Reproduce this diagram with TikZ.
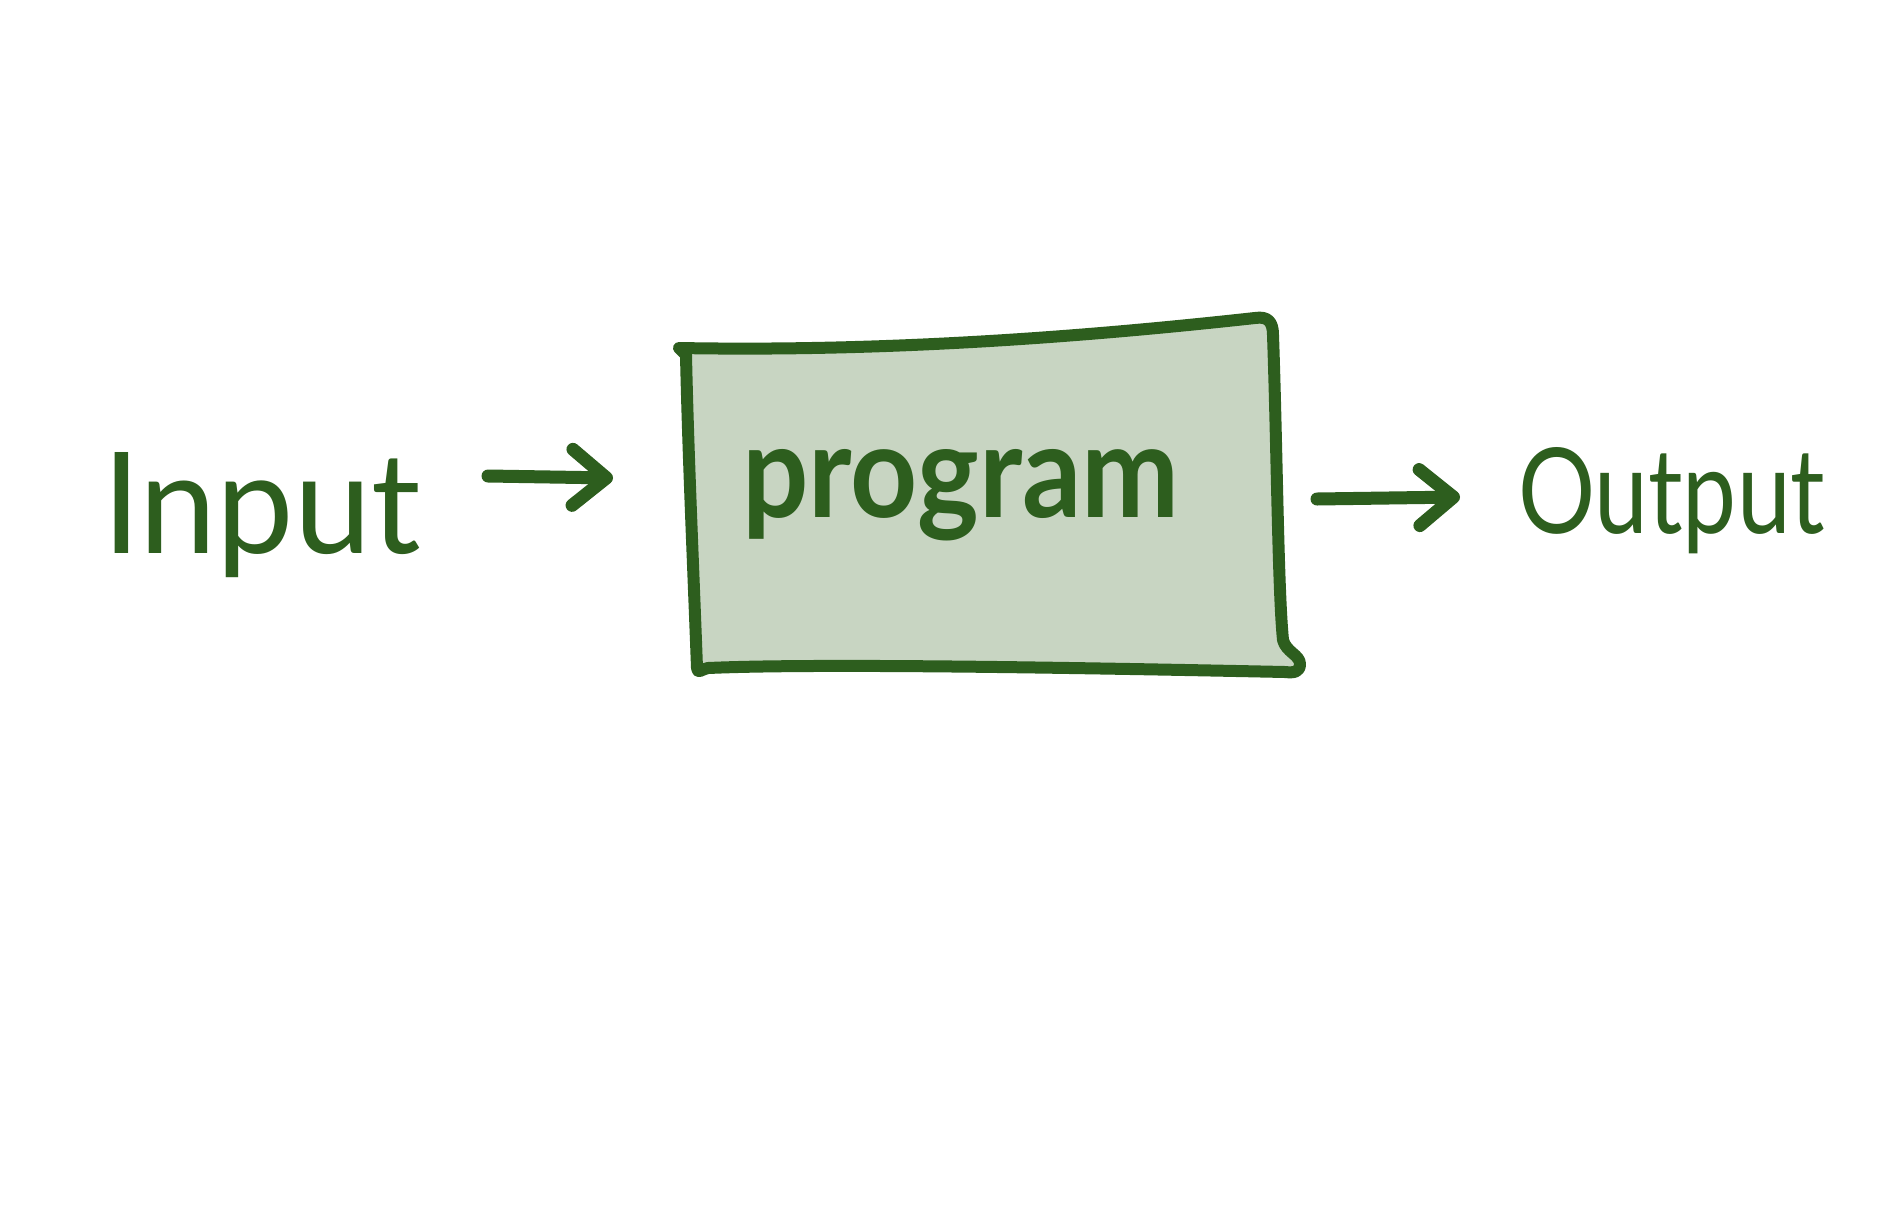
\documentclass[tikz,border=0pt]{standalone}
\usepackage{fontspec}
\setmainfont{Lato}
\usetikzlibrary{arrows.meta}
\definecolor{ink}{HTML}{2D5E1E}
\definecolor{boxfill}{HTML}{C8D5C2}
\tikzset{
  lbl/.style={inner sep=0pt, outer sep=0pt, anchor=base west, text=ink},
  arr/.style={draw=ink, line width=13pt, line cap=round, line join=round,
              -{Straight Barb[length=34pt, width=56pt, line cap=round, line join=round]}},
  frame/.style={draw=ink, line width=12pt, line cap=round, line join=round, fill=boxfill}
}
\begin{document}
\begin{tikzpicture}[x=1pt, y=-1pt]
\useasboundingbox[fill=white] (0,0) rectangle (1877,1213);
% hand-drawn box
\draw[frame] (686,355) -- (679,348)
  .. controls (900,352) and (1100,335) .. (1255,318)
  .. controls (1268,316) and (1273,322) .. (1273,335)
  .. controls (1277,450) and (1278,590) .. (1283,640)
  .. controls (1286,652) and (1300,655) .. (1300,664)
  .. controls (1300,672) and (1294,673) .. (1285,672)
  .. controls (1000,666) and (800,664) .. (708,668)
  .. controls (700,670) and (698,674) .. (697,668)
  .. controls (693,560) and (688,450) .. (686,355) -- cycle;
\node[lbl, font=\bfseries] (prog) at (742,517) {\resizebox{437pt}{68pt}{program}};
\node[lbl] (in) at (102,553) {\resizebox{319pt}{101pt}{Input}};
\node[lbl] (out) at (1518,533) {\resizebox{307pt}{86pt}{Output}};
\coordinate (a1) at (488,476);
\coordinate (a2) at (613,478);
\coordinate (b1) at (1317,499);
\coordinate (b2) at (1460,497);
\draw[arr] (a1) -- (a2);
\draw[arr] (b1) -- (b2);
\end{tikzpicture}
\end{document}
